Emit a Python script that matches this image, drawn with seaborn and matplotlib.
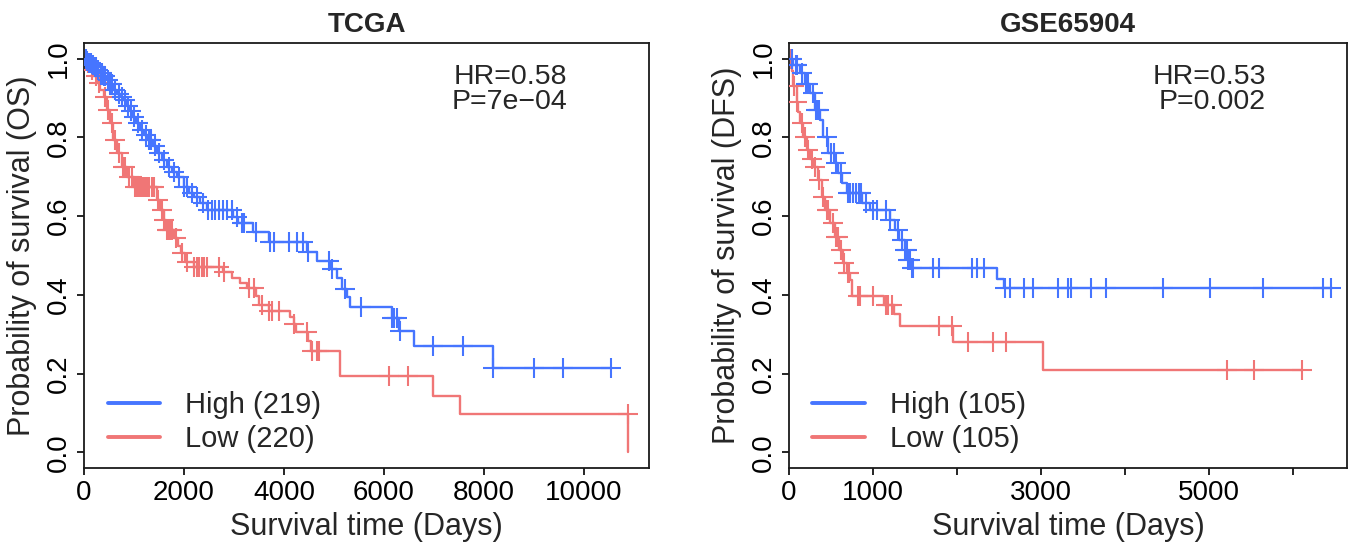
import numpy as np
import pandas as pd
import matplotlib
matplotlib.use("Agg")
import matplotlib.pyplot as plt
import seaborn as sns
from matplotlib.lines import Line2D

sns.set_style("white")
plt.rcParams["font.family"] = ["Liberation Sans", "DejaVu Sans"]

# ---------------- data ----------------
# TCGA (OS)
tcga_high_t = [40, 90, 150, 200, 260, 320, 380, 440, 500, 580, 660, 730, 780, 850, 910, 960,
               1040, 1120, 1200, 1280, 1370, 1460, 1560, 1660, 1760, 1860, 1990, 2100, 2190,
               2320, 2450, 2980, 3080, 3380, 3700, 4450, 4650, 4920, 5050, 5150, 5250, 5320,
               6150, 6290, 6600, 8170]
tcga_high_s = [0.995, 0.99, 0.985, 0.98, 0.972, 0.964, 0.955, 0.945, 0.935, 0.921, 0.91, 0.903,
               0.896, 0.88, 0.866, 0.852, 0.836, 0.82, 0.807, 0.794, 0.777, 0.76, 0.742, 0.725,
               0.712, 0.70, 0.674, 0.66, 0.649, 0.633, 0.616, 0.598, 0.583, 0.56, 0.535, 0.51,
               0.487, 0.465, 0.442, 0.416, 0.395, 0.368, 0.34, 0.307, 0.269, 0.214]
tcga_high_cens = [30, 60, 100, 130, 170, 210, 240, 280, 330, 360, 400, 420, 470, 520, 560, 620,
                  700, 760, 820, 880, 930, 1000, 1080, 1150, 1230, 1300, 1330, 1420, 1500, 1600,
                  1700, 1800, 1900, 2000, 2060, 2150, 2250, 2380, 2480, 2560, 2620, 2700, 2780,
                  2860, 2950, 3050, 3150, 3200, 3430, 3720, 3800, 4100, 4250, 4380, 4480, 4900,
                  4950, 5220, 5540, 6150, 6200, 6250, 6320, 6970, 7570, 8170, 8990, 9570, 10530]

tcga_low_t = [60, 120, 180, 250, 320, 390, 450, 520, 580, 650, 750, 850, 990, 1460, 1520, 1590,
              1640, 1800, 1875, 1930, 2010, 2190, 2770, 2950, 3125, 3260, 3440, 3500, 3700,
              4120, 4190, 4230, 4480, 4540, 5120, 6970, 7520, 10880]
tcga_low_s = [0.99, 0.972, 0.955, 0.939, 0.921, 0.903, 0.87, 0.837, 0.794, 0.76, 0.725, 0.70,
              0.674, 0.641, 0.616, 0.59, 0.565, 0.545, 0.524, 0.507, 0.484, 0.471, 0.458, 0.444,
              0.431, 0.418, 0.396, 0.373, 0.36, 0.344, 0.327, 0.306, 0.283, 0.258, 0.193, 0.143,
              0.096, 0.0]
tcga_low_cens = [80, 150, 230, 300, 420, 480, 560, 620, 700, 780, 820, 900, 960, 1020, 1060,
                 1100, 1140, 1180, 1220, 1260, 1300, 1350, 1400, 1480, 1550, 1600, 1650, 1680,
                 1720, 1760, 1830, 1950, 2050, 2200, 2250, 2300, 2350, 2400, 2450, 2700, 2800,
                 3300, 3400, 3550, 3700, 3750, 3900, 4200, 4450, 4550, 4650, 4700, 6090, 6470,
                 10870]

# GSE65904 (DFS)
gse_high_t = [50, 130, 190, 250, 310, 370, 400, 465, 545, 580, 630, 690, 870, 960, 1200, 1260,
              1310, 1375, 1420, 1460, 2480, 2560]
gse_high_s = [0.985, 0.964, 0.936, 0.913, 0.87, 0.845, 0.80, 0.76, 0.735, 0.71, 0.684, 0.658,
              0.633, 0.616, 0.59, 0.565, 0.54, 0.514, 0.489, 0.468, 0.441, 0.417]
gse_high_cens = [40, 80, 100, 150, 200, 230, 280, 320, 340, 360, 450, 500, 540, 560, 620, 700,
                 720, 760, 800, 830, 860, 920, 1000, 1050, 1150, 1200, 1300, 1350, 1380, 1400,
                 1420, 1440, 1460, 1480, 1715, 1785, 2175, 2240, 2325, 2575, 2625, 2800, 2900,
                 3200, 3325, 3360, 3590, 3775, 4450, 5010, 5635, 6350, 6450]

gse_low_t = [30, 50, 90, 110, 130, 170, 210, 250, 290, 340, 390, 430, 490, 545, 600, 640, 690,
             720, 750, 1125, 1250, 1325, 1950, 3025]
gse_low_s = [0.97, 0.93, 0.89, 0.865, 0.837, 0.80, 0.768, 0.745, 0.725, 0.692, 0.649, 0.616,
             0.583, 0.547, 0.514, 0.482, 0.455, 0.437, 0.397, 0.374, 0.352, 0.321, 0.281, 0.21]
gse_low_cens = [20, 60, 100, 150, 190, 230, 270, 310, 360, 410, 450, 470, 520, 560, 580, 620,
                660, 700, 710, 825, 850, 1000, 1150, 1175, 1225, 1790, 1935, 2125, 2425, 2585,
                5210, 5530, 6100]

panels = [
    dict(title="TCGA", ylabel="Probability of survival (OS)",
         high=(tcga_high_t, tcga_high_s, tcga_high_cens),
         low=(tcga_low_t, tcga_low_s, tcga_low_cens),
         labels=["High (219)", "Low (220)"], hr="HR=0.58\nP=7e\u221204",
         xticks=[0, 2000, 4000, 6000, 8000, 10000],
         xlabels=["0", "2000", "4000", "6000", "8000", "10000"], xmax=11300),
    dict(title="GSE65904", ylabel="Probability of survival (DFS)",
         high=(gse_high_t, gse_high_s, gse_high_cens),
         low=(gse_low_t, gse_low_s, gse_low_cens),
         labels=["High (105)", "Low (105)"], hr="HR=0.53\nP=0.002",
         xticks=[0, 1000, 2000, 3000, 4000, 5000, 6000],
         xlabels=["0", "1000", "", "3000", "", "5000", ""], xmax=6640),
]

BLUE = "#4675FF"
RED = "#F07676"

fig = plt.figure(figsize=(13.61, 5.5), dpi=100)
axes = [fig.add_axes([84 / 1361, 1 - 468 / 550, 565 / 1361, 425 / 550]),
        fig.add_axes([789 / 1361, 1 - 468 / 550, 558 / 1361, 425 / 550])]


def curve_frame(t, s, cens, group):
    end = max(max(cens), max(t))
    tt = [0] + list(t)
    ss = [1.0] + list(s)
    if end > tt[-1]:
        tt.append(end)
        ss.append(ss[-1])
    return pd.DataFrame({"time": tt, "surv": ss, "group": group})


def cens_frame(t, s, cens, group):
    tt = np.array([0] + list(t))
    ss = np.array([1.0] + list(s))
    idx = np.searchsorted(tt, np.array(cens), side="right") - 1
    return pd.DataFrame({"time": cens, "surv": ss[idx], "group": group})


for ax, p in zip(axes, panels):
    lines = pd.concat([curve_frame(*p["high"], "High"), curve_frame(*p["low"], "Low")])
    cens = pd.concat([cens_frame(*p["high"], "High"), cens_frame(*p["low"], "Low")])
    pal = {"High": BLUE, "Low": RED}
    for g in ["Low", "High"]:
        sns.lineplot(data=lines[lines.group == g], x="time", y="surv", color=pal[g],
                     estimator=None, sort=False, drawstyle="steps-post", lw=1.7, ax=ax,
                     legend=False)
        sns.scatterplot(data=cens[cens.group == g], x="time", y="surv", color=pal[g],
                        marker="+", s=220, linewidth=1.5, ax=ax, legend=False, zorder=3)

    ax.set_xlim(0, p["xmax"])
    ax.set_ylim(-0.04, 1.04)
    ax.set_xticks(p["xticks"])
    ax.set_xticklabels(p["xlabels"])
    ax.set_yticks([0.0, 0.2, 0.4, 0.6, 0.8, 1.0])
    ax.set_yticklabels(["0.0", "0.2", "0.4", "0.6", "0.8", "1.0"], rotation=90, va="center")
    ax.tick_params(axis="both", direction="out", length=5, width=1.2, labelsize=20,
                   colors="black", left=True, bottom=True)
    ax.tick_params(axis="x", pad=4)
    ax.tick_params(axis="y", pad=4)
    for sp in ax.spines.values():
        sp.set_visible(True)
        sp.set_color("#1a1a1a")
        sp.set_linewidth(1.3)
    ax.set_xlabel("Survival time (Days)", fontsize=22, labelpad=4)
    ax.set_ylabel(p["ylabel"], fontsize=22, labelpad=6)
    ax.set_title(p["title"], fontsize=20, fontweight="bold", pad=8)
    ax.text(0.855, 0.95, p["hr"], transform=ax.transAxes, ha="right", va="top",
            fontsize=20.5, linespacing=0.95, multialignment="right")
    handles = [Line2D([], [], color=BLUE, lw=2.8), Line2D([], [], color=RED, lw=2.8)]
    ax.legend(handles, p["labels"], loc="lower left", bbox_to_anchor=(0.042, 0.035),
              frameon=False, fontsize=21, handlelength=1.8, handletextpad=0.85,
              labelspacing=0.2, borderpad=0, borderaxespad=0)

fig.savefig("out.png", dpi=100)
